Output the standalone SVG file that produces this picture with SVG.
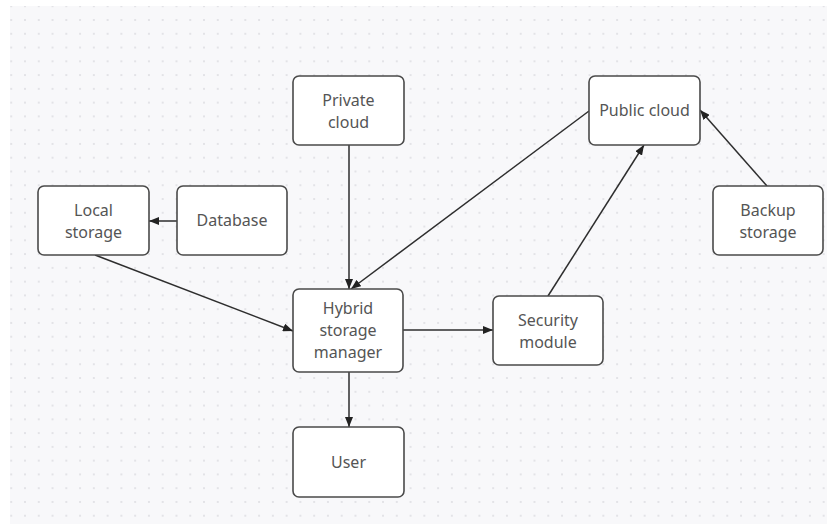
<svg xmlns="http://www.w3.org/2000/svg" width="827" height="524" viewBox="0 0 827 524">
  <defs>
    <pattern id="dots" x="25" y="20" width="13.77" height="13.77" patternUnits="userSpaceOnUse">
      <circle cx="0" cy="0" r="0.9" fill="#d9d9de"/>
      <circle cx="13.77" cy="0" r="0.9" fill="#d9d9de"/>
      <circle cx="0" cy="13.77" r="0.9" fill="#d9d9de"/>
      <circle cx="13.77" cy="13.77" r="0.9" fill="#d9d9de"/>
    </pattern>
    <marker id="arrow" markerUnits="userSpaceOnUse" markerWidth="10" markerHeight="8" refX="10" refY="4" orient="auto">
      <path d="M0,0 L10,4 L0,8 Z" fill="#222"/>
    </marker>
    <style>
      .box { fill: #ffffff; stroke: #4a4a4a; stroke-width: 1.6; }
      .label { font-family: "Noto Sans", "Open Sans", sans-serif; font-size: 16px; fill: #555555; text-anchor: middle; }
      .edge { stroke: #2e2e2e; stroke-width: 1.5; fill: none; marker-end: url(#arrow); }
    </style>
  </defs>

  <!-- canvas -->
  <rect x="0" y="0" width="827" height="524" fill="#ffffff"/>
  <rect x="10" y="6" width="817" height="518" fill="#f8f8fa"/>
  <rect x="10" y="6" width="817" height="518" fill="url(#dots)"/>

  <!-- connectors -->
  <g id="connectors">
    <line class="edge" x1="349" y1="145" x2="349" y2="289"/>
    <line class="edge" x1="589" y1="111" x2="351" y2="289"/>
    <line class="edge" x1="177" y1="221" x2="149" y2="221"/>
    <line class="edge" x1="95" y1="255" x2="293" y2="331"/>
    <line class="edge" x1="403" y1="330" x2="493" y2="330"/>
    <line class="edge" x1="548" y1="296" x2="644" y2="145"/>
    <line class="edge" x1="767" y1="186" x2="700" y2="110"/>
    <line class="edge" x1="349" y1="372" x2="349" y2="427"/>
  </g>

  <!-- nodes -->
  <g id="private-cloud">
    <rect class="box" x="293" y="76" width="111" height="69" rx="6"/>
    <text class="label" x="348.5" y="106">Private</text>
    <text class="label" x="348.5" y="128">cloud</text>
  </g>
  <g id="public-cloud">
    <rect class="box" x="589" y="76" width="111" height="69" rx="6"/>
    <text class="label" x="644.5" y="116">Public cloud</text>
  </g>
  <g id="local-storage">
    <rect class="box" x="38" y="186" width="111" height="69" rx="6"/>
    <text class="label" x="93.5" y="216">Local</text>
    <text class="label" x="93.5" y="238">storage</text>
  </g>
  <g id="database">
    <rect class="box" x="177" y="186" width="110" height="69" rx="6"/>
    <text class="label" x="232" y="226">Database</text>
  </g>
  <g id="backup-storage">
    <rect class="box" x="713" y="186" width="110" height="69" rx="6"/>
    <text class="label" x="768" y="216">Backup</text>
    <text class="label" x="768" y="238">storage</text>
  </g>
  <g id="hybrid-storage-manager">
    <rect class="box" x="293" y="289" width="110" height="83" rx="6"/>
    <text class="label" x="348" y="314">Hybrid</text>
    <text class="label" x="348" y="336">storage</text>
    <text class="label" x="348" y="358">manager</text>
  </g>
  <g id="security-module">
    <rect class="box" x="493" y="296" width="110" height="69" rx="6"/>
    <text class="label" x="548" y="326">Security</text>
    <text class="label" x="548" y="348">module</text>
  </g>
  <g id="user">
    <rect class="box" x="293" y="427" width="111" height="70" rx="6"/>
    <text class="label" x="348.5" y="467.5">User</text>
  </g>
</svg>
